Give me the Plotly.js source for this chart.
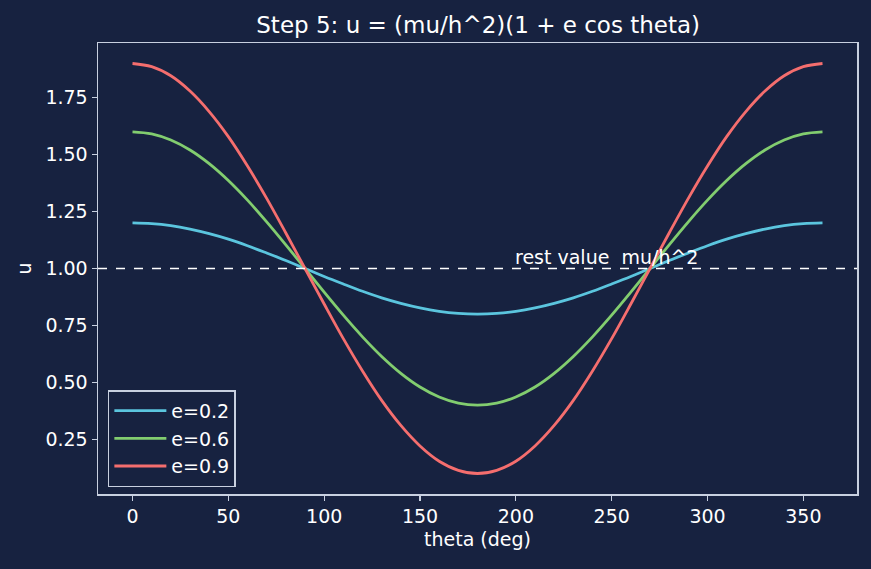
<!DOCTYPE html>
<html>
<head>
<meta charset="utf-8">
<script src="https://cdn.plot.ly/plotly-3.0.1.min.js"></script>
<style>
html,body{margin:0;padding:0;background:#172240;}
#chart{width:871px;height:569px;}
</style>
</head>
<body>
<div id="chart"></div>
<script>
const theta = [0,10,20,30,40,50,60,70,80,90,100,110,120,130,140,150,160,170,180,190,200,210,220,230,240,250,260,270,280,290,300,310,320,330,340,350,360];
const u_e02 = [1.200,1.197,1.188,1.173,1.153,1.129,1.100,1.068,1.035,1.000,0.965,0.932,0.900,0.871,0.847,0.827,0.812,0.803,0.800,0.803,0.812,0.827,0.847,0.871,0.900,0.932,0.965,1.000,1.035,1.068,1.100,1.129,1.153,1.173,1.188,1.197,1.200];
const u_e06 = [1.600,1.591,1.564,1.520,1.460,1.386,1.300,1.205,1.104,1.000,0.896,0.795,0.700,0.614,0.540,0.480,0.436,0.409,0.400,0.409,0.436,0.480,0.540,0.614,0.700,0.795,0.896,1.000,1.104,1.205,1.300,1.386,1.460,1.520,1.564,1.591,1.600];
const u_e09 = [1.900,1.886,1.846,1.779,1.689,1.579,1.450,1.308,1.156,1.000,0.844,0.692,0.550,0.421,0.311,0.221,0.154,0.114,0.100,0.114,0.154,0.221,0.311,0.421,0.550,0.692,0.844,1.000,1.156,1.308,1.450,1.579,1.689,1.779,1.846,1.886,1.900];
const seriesNames = ["e=0.2","e=0.6","e=0.9"];
const restValue = 1.0;
const restLabel = "rest value\u00a0 mu/h^2";
const restLabelX = 200;
const xTicks = [0,50,100,150,200,250,300,350];
const yTicks = [0.25,0.50,0.75,1.00,1.25,1.50,1.75];
const yTickText = ["0.25","0.50","0.75","1.00","1.25","1.50","1.75"];

const colors = ["#5bc5de","#82cd6f","#f56e6e"];
const bg = "#172240";
const fg = "#ffffff";
const axisCol = "#c8d0e0";
const FONT = "DejaVu Sans, sans-serif";

const ys = [u_e02,u_e06,u_e09];
const traces = ys.map((y,i)=>({
  x: theta, y: y, type:"scatter", mode:"lines", name: seriesNames[i],
  line:{color:colors[i], width:2.8, shape:"spline", smoothing:1}
}));

const layout = {
  width:871, height:569,
  paper_bgcolor:bg, plot_bgcolor:bg,
  font:{family:FONT, color:fg, size:19},
  margin:{l:98, r:14, t:43, b:75},
  title:{text:"Step 5: u = (mu/h^2)(1 + e cos theta)", x:0.549, xanchor:"center", y:0.957, yanchor:"middle", font:{size:23, color:fg, family:FONT}},
  xaxis:{
    range:[-18,378], tickvals:xTicks, ticks:"outside", ticklen:5, tickwidth:1.3, tickcolor:axisCol,
    showgrid:false, zeroline:false, showline:true, linecolor:axisCol, linewidth:1.5, mirror:true,
    tickfont:{size:19, color:fg},
    title:{text:"theta (deg)", font:{size:19, color:fg}, standoff:6}
  },
  yaxis:{
    range:[0.01,1.99], tickvals:yTicks, ticktext:yTickText, ticks:"outside", ticklen:5, tickwidth:1.3, tickcolor:axisCol,
    showgrid:false, zeroline:false, showline:true, linecolor:axisCol, linewidth:1.5, mirror:true,
    tickfont:{size:19, color:fg},
    title:{text:"u", font:{size:19, color:fg}, standoff:8}
  },
  shapes:[{type:"line", xref:"paper", x0:0, x1:1, yref:"y", y0:restValue, y1:restValue,
    line:{color:"#ffffff", width:1.5, dash:"dash"}}],
  annotations:[{x:restLabelX, y:restValue, xref:"x", yref:"y", text:restLabel, showarrow:false,
    xanchor:"left", yanchor:"bottom", xshift:-3, yshift:-1, font:{size:19, color:fg}}],
  legend:{x:0.013, y:0.015, xanchor:"left", yanchor:"bottom", bgcolor:bg, bordercolor:axisCol, borderwidth:1.5,
    font:{size:19, color:fg}, tracegroupgap:0, itemwidth:52}
};
Plotly.newPlot("chart", traces, layout, {displayModeBar:false, staticPlot:true});
</script>
</body>
</html>
